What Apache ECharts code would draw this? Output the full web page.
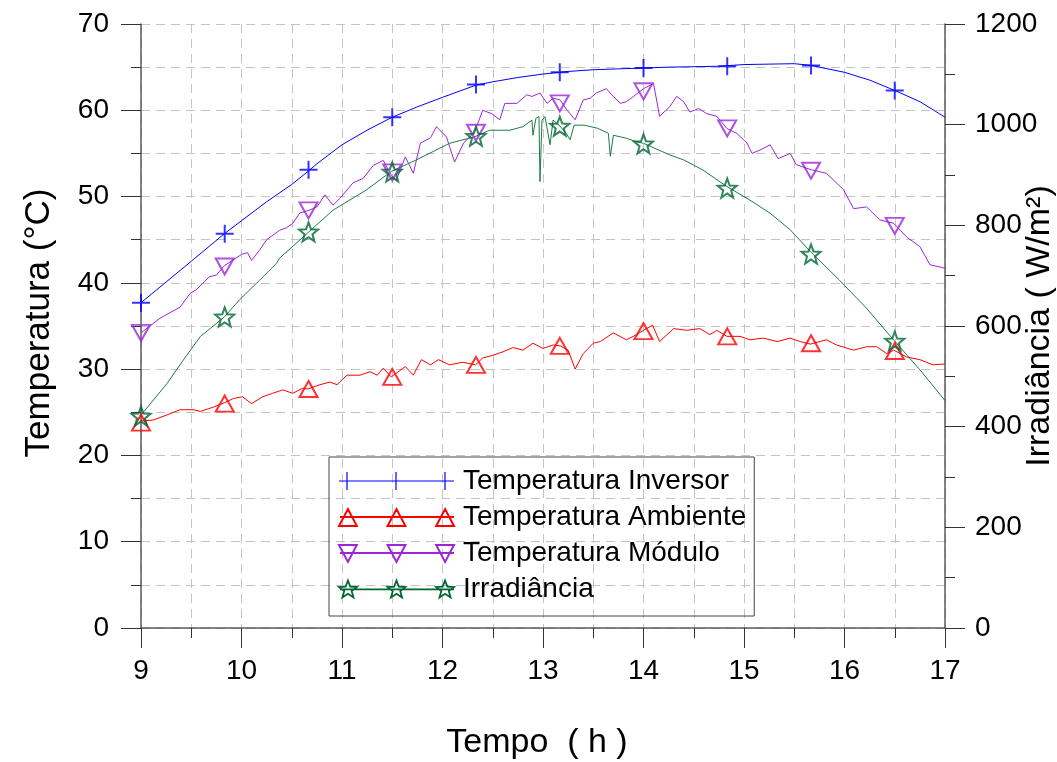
<!DOCTYPE html>
<html>
<head>
<meta charset="utf-8">
<script src="https://cdn.jsdelivr.net/npm/echarts@6/dist/echarts.min.js"></script>
<style>html,body{margin:0;padding:0;background:#fff}#chart{width:1057px;height:762px}</style>
</head>
<body>
<div id="chart"></div>
<script>
// ---- data (time in hours, temperature in °C, irradiance in W/m²) ----
const xTicks = [9, 10, 11, 12, 13, 14, 15, 16, 17];
const names = ['Temperatura Inversor', 'Temperatura Ambiente', 'Temperatura Módulo', 'Irradiância'];

const inversor = [[9.00,37.7],[9.25,40.1],[9.50,42.5],[9.83,45.7],[10.00,47.2],[10.25,49.4],[10.50,51.4],[10.67,53.0],[10.75,53.8],[11.00,56.0],[11.25,57.7],[11.50,59.2],[11.75,60.4],[12.00,61.5],[12.33,62.9],[12.50,63.3],[12.75,63.8],[13.00,64.2],[13.25,64.5],[13.50,64.7],[13.75,64.8],[14.00,64.9],[14.25,65.0],[14.50,65.05],[14.75,65.1],[15.00,65.3],[15.25,65.35],[15.50,65.4],[15.67,65.2],[15.75,65.0],[16.00,64.4],[16.25,63.5],[16.50,62.3],[16.75,61.0],[17.00,59.2]];

const ambiente = [[9.00,24.0],[9.12,24.1],[9.26,24.7],[9.39,25.3],[9.52,25.3],[9.59,25.1],[9.72,25.6],[9.83,26.1],[9.92,26.6],[10.01,26.8],[10.10,26.0],[10.21,26.8],[10.31,27.2],[10.41,27.6],[10.51,27.2],[10.61,27.8],[10.66,27.7],[10.78,28.2],[10.88,28.5],[10.95,28.2],[11.05,29.3],[11.18,29.3],[11.28,29.7],[11.35,29.3],[11.41,30.1],[11.49,29.1],[11.63,30.3],[11.71,29.3],[11.79,31.1],[11.88,30.5],[11.96,31.1],[12.07,30.5],[12.20,30.8],[12.33,30.5],[12.40,31.3],[12.50,31.6],[12.60,32.0],[12.70,32.5],[12.80,32.2],[12.90,33.0],[13.00,32.4],[13.10,32.8],[13.17,32.7],[13.25,32.2],[13.32,30.0],[13.40,31.8],[13.50,33.0],[13.57,33.2],[13.70,34.2],[13.83,33.4],[13.93,34.0],[14.00,34.5],[14.09,35.1],[14.16,33.2],[14.30,34.7],[14.43,34.5],[14.56,34.7],[14.66,34.0],[14.73,34.5],[14.83,33.8],[14.96,33.8],[15.06,33.4],[15.19,33.6],[15.33,33.2],[15.46,33.6],[15.56,33.2],[15.66,32.9],[15.82,33.4],[15.92,32.8],[16.09,32.2],[16.22,32.6],[16.32,32.6],[16.42,31.8],[16.49,32.2],[16.62,31.4],[16.75,31.1],[16.88,30.5],[17.00,30.6]];

const modulo = [[9.00,34.2],[9.19,35.9],[9.39,37.2],[9.49,38.8],[9.55,39.2],[9.68,40.7],[9.75,40.9],[9.83,42.0],[9.95,42.9],[10.00,43.3],[10.06,43.5],[10.10,42.6],[10.18,43.8],[10.25,45.0],[10.38,46.1],[10.45,46.4],[10.51,46.9],[10.58,48.1],[10.67,48.4],[10.75,48.8],[10.83,50.2],[10.91,49.0],[10.98,49.8],[11.11,51.6],[11.21,52.1],[11.31,53.6],[11.41,54.2],[11.49,52.5],[11.54,51.9],[11.63,54.6],[11.71,52.7],[11.78,56.2],[11.88,56.8],[11.94,58.1],[12.04,56.9],[12.07,55.8],[12.12,54.0],[12.21,56.2],[12.32,57.5],[12.40,60.0],[12.49,59.6],[12.57,58.9],[12.62,60.8],[12.74,60.8],[12.84,61.8],[12.89,61.6],[12.97,62.0],[13.04,60.8],[13.10,61.4],[13.17,61.2],[13.24,60.0],[13.32,58.9],[13.40,61.2],[13.47,61.4],[13.53,62.0],[13.63,62.5],[13.70,61.6],[13.77,60.8],[13.83,61.0],[13.90,61.6],[14.00,62.5],[14.10,63.1],[14.16,59.3],[14.26,60.4],[14.33,61.6],[14.40,61.0],[14.46,59.8],[14.55,60.2],[14.63,59.6],[14.73,59.3],[14.83,57.9],[14.93,57.3],[15.03,56.2],[15.08,55.0],[15.16,55.4],[15.26,56.0],[15.34,54.4],[15.46,55.0],[15.52,53.7],[15.67,53.1],[15.82,52.7],[15.99,50.8],[16.09,48.6],[16.22,48.8],[16.35,47.3],[16.49,46.9],[16.62,45.3],[16.75,44.2],[16.85,42.1],[17.00,41.7]];

const irradiancia = [[9.00,423],[9.26,486],[9.42,532],[9.59,579],[9.83,618],[9.98,652],[10.18,691],[10.35,725],[10.38,735],[10.67,787],[10.91,830],[11.24,870],[11.49,907],[11.74,930],[12.04,960],[12.07,963],[12.32,976],[12.47,989],[12.67,989],[12.80,996],[12.89,1009],[12.90,979],[12.93,1013],[12.96,1016],[12.97,887],[12.99,1009],[13.02,1016],[13.07,960],[13.10,1009],[13.16,999],[13.23,983],[13.27,970],[13.31,999],[13.41,999],[13.54,993],[13.65,983],[13.67,937],[13.70,979],[13.83,973],[13.93,966],[14.00,963],[14.26,940],[14.40,930],[14.59,910],[14.83,877],[15.06,850],[15.26,824],[15.46,791],[15.66,748],[15.95,691],[16.22,635],[16.49,572],[16.75,513],[17.00,452]];

// marker points (every 50 min)
const inversorMk = [[9.00,37.7],[9.833,45.7],[10.667,53.1],[11.5,59.2],[12.333,63.0],[13.167,64.4],[14.0,64.9],[14.833,65.1],[15.667,65.2],[16.5,62.3]];
const ambienteMk = [[9.00,23.8],[9.833,26.0],[10.667,27.7],[11.5,29.1],[12.333,30.5],[13.167,32.7],[14.0,34.4],[14.833,33.8],[15.667,33.0],[16.5,32.1]];
const moduloMk = [[9.00,34.2],[9.833,41.9],[10.667,48.4],[11.5,52.8],[12.333,57.4],[13.167,60.8],[14.0,62.2],[14.833,57.9],[15.667,53.0],[16.5,46.6]];
const irradianciaMk = [[9.00,421],[9.833,618],[10.667,787],[11.5,906],[12.333,977],[13.167,997],[14.0,962],[14.833,874],[15.667,743],[16.5,570]];

// ---- styles ----
const FONT = "'Liberation Sans', Arial, Helvetica, sans-serif";
const C_INV = '#0000ff', C_AMB = '#ff0000', C_MOD = '#9b27d9', C_IRR = '#006633', C_IRR_LINE = '#1f7a4a';
const GRID_LINE = {color: '#c4c4c4', width: 1, type: [9, 6]};

function starPath(cx, cy, R, r) {
  let d = '';
  for (let i = 0; i < 10; i++) {
    const a = -Math.PI / 2 + i * Math.PI / 5;
    const rad = i % 2 === 0 ? R : r;
    d += (i === 0 ? 'M' : 'L') + (cx + rad * Math.cos(a)).toFixed(2) + ' ' + (cy + rad * Math.sin(a)).toFixed(2) + ' ';
  }
  return d + 'Z ';
}
const STAR = 'path://' + starPath(10, 10, 10, 4.2);
const PLUS = 'path://M9 0 L9 18 M0 9 L18 9';

// legend icons: line + three markers
const LX = [8, 57, 106];
function legendIcon(kind) {
  let d = 'M0 9 L115 9 ';
  LX.forEach(x => {
    if (kind === 'plus') d += `M${x} 0 L${x} 18 M${x - 8} 9 L${x + 8} 9 `;
    if (kind === 'up') d += `M${x - 9} 18 L${x} 1 L${x + 9} 18 Z `;
    if (kind === 'down') d += `M${x - 9} 1 L${x} 18 L${x + 9} 1 Z `;
    if (kind === 'star') d += starPath(x, 9.5, 9.5, 4);
  });
  if (kind === 'up' || kind === 'down') d += 'M0 0 M115 18 ';
  return 'path://' + d;
}

const axisCommon = {
  axisLine: {show: true, onZero: false, lineStyle: {color: '#5a5a5a', width: 1.5}},
  axisTick: {show: true, length: 20, lineStyle: {color: '#333', width: 1}},
  minorTick: {show: true, splitNumber: 2, length: 10, lineStyle: {color: '#333', width: 1}},
  axisLabel: {color: '#000', fontSize: 28, fontFamily: FONT, formatter: v => String(v)},
  nameTextStyle: {color: '#000', fontSize: 34, fontFamily: FONT},
  nameLocation: 'middle',
  nameMoveOverlap: false
};

function lineSeries(name, data, color, yIdx, z) {
  return {name, type: 'line', data, yAxisIndex: yIdx, showSymbol: false, symbol: 'none',
    lineStyle: {color, width: 1}, itemStyle: {color}, z, animation: false};
}
function markSeries(name, data, color, yIdx, symbol, size, rotate) {
  return {name, type: 'scatter', data, yAxisIndex: yIdx, symbol, symbolSize: size, symbolRotate: rotate || 0,
    itemStyle: {color: 'rgba(0,0,0,0)', borderColor: color, borderWidth: 2}, z: 5, animation: false};
}

const chart = echarts.init(document.getElementById('chart'), null, {renderer: 'canvas'});
chart.setOption({
  backgroundColor: '#fff',
  animation: false,
  textStyle: {fontFamily: FONT},
  grid: {left: 141, right: 112, top: 24, bottom: 134, containLabel: false, outerBoundsMode: 'none'},
  xAxis: Object.assign({}, axisCommon, {
    type: 'value', min: xTicks[0], max: xTicks[xTicks.length - 1], interval: 1,
    name: 'Tempo  ( h )', nameGap: 98,
    nameTextStyle: Object.assign({}, axisCommon.nameTextStyle, {padding: [0, 12, 0, 0]}),
    axisLabel: Object.assign({}, axisCommon.axisLabel, {margin: 29}),
    splitLine: {show: true, lineStyle: GRID_LINE},
    minorSplitLine: {show: true, lineStyle: GRID_LINE}
  }),
  yAxis: [
    Object.assign({}, axisCommon, {
      type: 'value', min: 0, max: 70, interval: 10, position: 'left',
      name: 'Temperatura (°C)', nameGap: 84,
      nameTextStyle: Object.assign({}, axisCommon.nameTextStyle, {fontSize: 35, padding: [0, 0, 0, 6]}),
      axisLabel: Object.assign({}, axisCommon.axisLabel, {margin: 32}),
      splitLine: {show: true, lineStyle: GRID_LINE},
      minorSplitLine: {show: true, lineStyle: GRID_LINE}
    }),
    Object.assign({}, axisCommon, {
      type: 'value', min: 0, max: 1200, interval: 200, position: 'right',
      name: 'Irradiância ( W/m²)', nameGap: 78,
      axisLabel: Object.assign({}, axisCommon.axisLabel, {margin: 30}),
      splitLine: {show: false}
    })
  ],
  legend: {
    orient: 'vertical', left: 329, top: 457,
    padding: [9, 8, 12, 9], itemGap: 6, itemWidth: 115, itemHeight: 18,
    borderColor: '#444', borderWidth: 1, backgroundColor: 'rgba(0,0,0,0)',
    selectedMode: false,
    textStyle: {color: '#000', fontSize: 28, fontFamily: FONT, lineHeight: 30, padding: [0, 0, 0, 4]},
    data: [
      {name: names[0], icon: legendIcon('plus'), itemStyle: {color: 'rgba(0,0,0,0)', borderColor: C_INV, borderWidth: 1.2}},
      {name: names[1], icon: legendIcon('up'), itemStyle: {color: 'rgba(0,0,0,0)', borderColor: C_AMB, borderWidth: 2}},
      {name: names[2], icon: legendIcon('down'), itemStyle: {color: 'rgba(0,0,0,0)', borderColor: C_MOD, borderWidth: 2}},
      {name: names[3], icon: legendIcon('star'), itemStyle: {color: 'rgba(0,0,0,0)', borderColor: C_IRR, borderWidth: 1.8}}
    ]
  },
  series: [
    lineSeries(names[1], ambiente, C_AMB, 0, 2),
    lineSeries(names[2], modulo, C_MOD, 0, 2),
    lineSeries(names[3], irradiancia, C_IRR_LINE, 1, 2),
    lineSeries(names[0], inversor, C_INV, 0, 3),
    markSeries(names[0], inversorMk, C_INV, 0, PLUS, 18),
    markSeries(names[1], ambienteMk, C_AMB, 0, 'triangle', [18, 16]),
    markSeries(names[2], moduloMk, C_MOD, 0, 'triangle', [18, 16], 180),
    markSeries(names[3], irradianciaMk, C_IRR, 1, STAR, 19)
  ]
});
</script>
</body>
</html>
